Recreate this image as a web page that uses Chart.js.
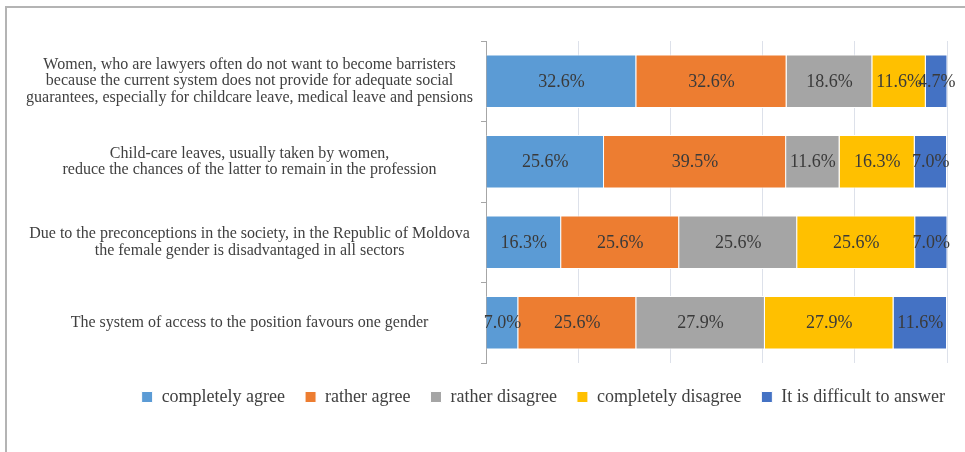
<!DOCTYPE html>
<html>
<head>
<meta charset="utf-8">
<script src="https://cdn.jsdelivr.net/npm/chart.js@4"></script>
<style>
  body { margin: 0; background: #fff; }
  #wrap { position: relative; width: 965px; height: 452px; }
  #marco { position: absolute; left: 5px; top: 6px; right: 0; bottom: 0; border-top: 2px solid #b4b4b4; border-left: 2px solid #b4b4b4; pointer-events: none; }
  canvas { position: absolute; left: 0; top: 0; }
</style>
</head>
<body>
<div id="wrap">
  <canvas id="grafico" width="965" height="452"></canvas>
  <div id="marco"></div>
</div>
<script>
const preguntas = [
    ['Women, who are lawyers often do not want to become barristers',
     'because the current system does not provide for adequate social',
     'guarantees, especially for childcare leave, medical leave and pensions'],
    ['Child-care leaves, usually taken by women,',
     'reduce the chances of the latter to remain in the profession'],
    ['Due to the preconceptions in the society, in the Republic of Moldova',
     'the female gender is disadvantaged in all sectors'],
    'The system of access to the position favours one gender'
];
const respuestas = ['completely agree', 'rather agree', 'rather disagree', 'completely disagree', 'It is difficult to answer'];
const completelyAgree = [32.6, 25.6, 16.3, 7.0];
const ratherAgree = [32.6, 39.5, 25.6, 25.6];
const ratherDisagree = [18.6, 11.6, 25.6, 27.9];
const completelyDisagree = [11.6, 16.3, 25.6, 27.9];
const difficult = [4.7, 7.0, 7.0, 11.6];
const colores = ['#5b9bd5', '#ed7d31', '#a5a5a5', '#ffc000', '#4472c4'];

const fuente = 'Liberation Serif';

// etiquetas de valor en el centro de cada segmento
const etiquetas = {
    id: 'etiquetas',
    afterDatasetsDraw(chart) {
        const ctx = chart.ctx;
        ctx.save();
        ctx.font = '18px "' + fuente + '"';
        ctx.fillStyle = '#3a3a3a';
        ctx.textAlign = 'center';
        ctx.textBaseline = 'middle';
        chart.data.datasets.forEach((ds, i) => {
            chart.getDatasetMeta(i).data.forEach((bar, j) => {
                const p = bar.getCenterPoint();
                ctx.fillText(ds.data[j].toFixed(1) + '%', p.x, p.y + 1);
            });
        });
        ctx.restore();
    }
};

const series = [completelyAgree, ratherAgree, ratherDisagree, completelyDisagree, difficult];

new Chart(document.getElementById('grafico'), {
    type: 'bar',
    data: {
        labels: preguntas,
        datasets: series.map((d, i) => ({
            label: respuestas[i],
            data: d,
            backgroundColor: colores[i],
            borderColor: '#ffffff',
            borderWidth: 1,
            barPercentage: 1,
            categoryPercentage: 0.667
        }))
    },
    options: {
        indexAxis: 'y',
        responsive: false,
        animation: false,
        devicePixelRatio: 1,
        layout: { padding: { left: 10, right: 0, top: 41, bottom: 36 } },
        scales: {
            x: {
                stacked: true,
                min: 0,
                max: 100,
                ticks: { display: false, stepSize: 20 },
                grid: { color: '#dde1ea', drawTicks: false },
                border: { display: false },
                afterFit(scale) { scale.height = 5; }
            },
            y: {
                stacked: true,
                afterFit(scale) { scale.width = 476; },
                border: { display: true, color: '#a6a6a6' },
                grid: { offset: true, drawOnChartArea: false, drawTicks: true, tickLength: 5, color: '#a6a6a6' },
                ticks: {
                    crossAlign: 'center',
                    padding: 8,
                    color: '#404040',
                    font: { family: fuente, size: 16, lineHeight: 1.03 }
                }
            },
            // eje vacío a la derecha, solo para dejar margen sin recortar la leyenda
            margen: {
                type: 'linear',
                position: 'right',
                grid: { display: false },
                border: { display: false },
                ticks: { display: false },
                afterFit(scale) { scale.width = 18; }
            }
        },
        plugins: {
            legend: {
                position: 'bottom',
                align: 'end',
                labels: {
                    boxWidth: 11,
                    boxHeight: 11,
                    padding: 20,
                    color: '#404040',
                    font: { family: fuente, size: 18 }
                }
            },
            tooltip: { enabled: false }
        }
    },
    plugins: [etiquetas]
});
</script>
</body>
</html>
